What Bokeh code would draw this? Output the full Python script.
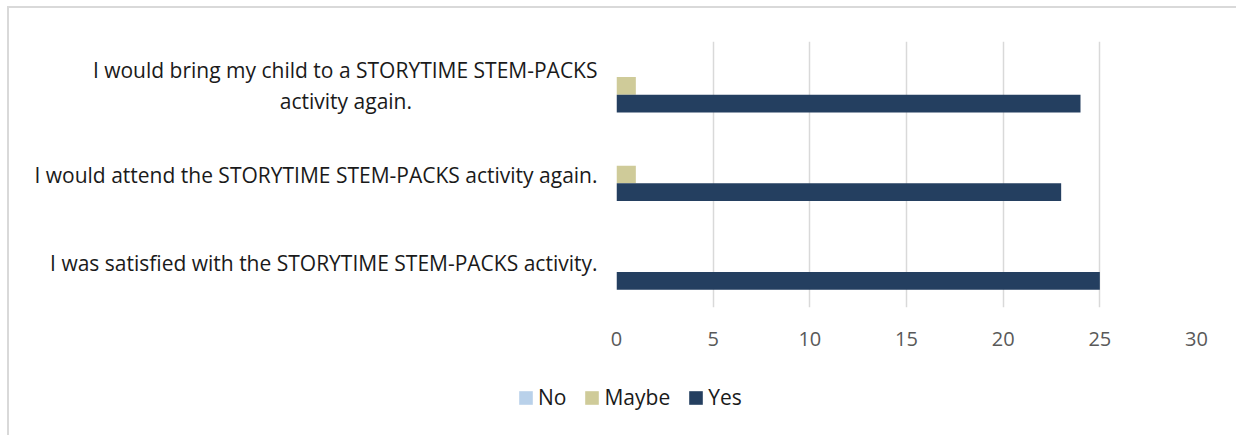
from bokeh.plotting import figure
from bokeh.layouts import column
from bokeh.models import (Range1d, Legend, LegendItem, SingleIntervalTicker, FixedTicker,
                          ColumnDataSource)
from bokeh.transform import dodge
from bokeh.embed import file_html
from bokeh.resources import INLINE

# ---- data (bottom to top) ----
categories = [
    "I was satisfied with the STORYTIME STEM-PACKS activity.",
    "I would attend the STORYTIME STEM-PACKS activity again.",
    "I would bring my child to a STORYTIME STEM-PACKS activity again.",
]
series_names = ["No", "Maybe", "Yes"]
no_vals = [0, 0, 0]
maybe_vals = [0, 1, 1]
yes_vals = [25, 23, 24]
x_ticks_interval = 5
x_max = 30

colors = {"No": "#B9D1EA", "Maybe": "#CFCB99", "Yes": "#243F60"}
FONT = "Open Sans"
NBSP = "\u00a0"

# wrap the long label like the original (second line centred under the first)
category_display = [
    categories[0],
    categories[1],
    "I would bring my child to a STORYTIME STEM-PACKS\nactivity again." + NBSP * 34,
]

positions = list(range(len(categories)))
src = ColumnDataSource(data=dict(
    pos=positions, No=no_vals, Maybe=maybe_vals, Yes=yes_vals,
))

p = figure(width=1227, height=352,
           x_range=Range1d(0, x_max), y_range=Range1d(-0.5, len(categories) - 0.5),
           output_backend="svg", toolbar_location=None,
           min_border_left=607, min_border_right=40,
           min_border_top=33, min_border_bottom=53)
p.outline_line_color = None
p.background_fill_color = "white"
p.border_fill_color = "white"

offsets = {"No": 0.2, "Maybe": 0.0, "Yes": -0.2}
for name in series_names:
    p.hbar(y=dodge("pos", offsets[name], range=p.y_range), right=name, left=0,
           height=0.2, source=src, fill_color=colors[name], line_color=None)

# y axis with category labels
p.yaxis.ticker = FixedTicker(ticks=positions)
p.yaxis.major_label_overrides = {i: t for i, t in zip(positions, category_display)}
p.yaxis.axis_line_color = None
p.yaxis.major_tick_line_color = None
p.yaxis.minor_tick_line_color = None
p.yaxis.major_tick_in = 0
p.yaxis.major_tick_out = 0
p.yaxis.major_label_standoff = 19
p.yaxis.major_label_text_font = FONT
p.yaxis.major_label_text_font_size = "21px"
p.yaxis.major_label_text_color = "#1A1A1A"
p.yaxis.major_label_text_line_height = 1.1
p.ygrid.grid_line_color = None

# x axis
p.xaxis.ticker = SingleIntervalTicker(interval=x_ticks_interval)
p.xgrid.ticker = SingleIntervalTicker(interval=x_ticks_interval)
p.xgrid.grid_line_color = "#D9D9D9"
p.xgrid.grid_line_width = 1.5
p.xaxis.axis_line_color = None
p.xaxis.major_tick_line_color = None
p.xaxis.minor_tick_line_color = None
p.xaxis.major_tick_in = 0
p.xaxis.major_tick_out = 0
p.xaxis.major_label_standoff = 20
p.xaxis.major_label_text_font = FONT
p.xaxis.major_label_text_font_size = "20px"
p.xaxis.major_label_text_color = "#595959"

# legend strip below the chart
lg = figure(width=1227, height=75, x_range=Range1d(0, 1), y_range=Range1d(0, 1),
            output_backend="svg", toolbar_location=None,
            x_axis_type=None, y_axis_type=None, min_border=0)
lg.outline_line_color = None
lg.grid.visible = False
if "frame_align" in lg.properties():
    lg.frame_align = False
    p.frame_align = False
# one zero-length bar per series so the legend has a swatch to draw
swatch = ColumnDataSource(data=dict(y=[0.5], right=[0]))
items = []
for name in series_names:
    r = lg.hbar(y="y", right="right", left=0, height=0.2, source=swatch,
                fill_color=colors[name], line_color=None)
    items.append(LegendItem(label=name, renderers=[r]))
legend = Legend(items=items, orientation="horizontal", location=(508, 24),
                glyph_width=17, glyph_height=17, label_standoff=4, spacing=17,
                padding=0, margin=0, border_line_color=None,
                background_fill_alpha=0,
                label_text_font=FONT, label_text_font_size="21px",
                label_text_color="#1A1A1A")
lg.add_layout(legend, "center")

layout = column(p, lg, spacing=0,
                styles={"margin-left": "7px", "margin-top": "6px",
                        "border-left": "2px solid #D9D9D9",
                        "border-top": "2px solid #D9D9D9"})

open("out.html", "w").write(file_html(layout, INLINE))
